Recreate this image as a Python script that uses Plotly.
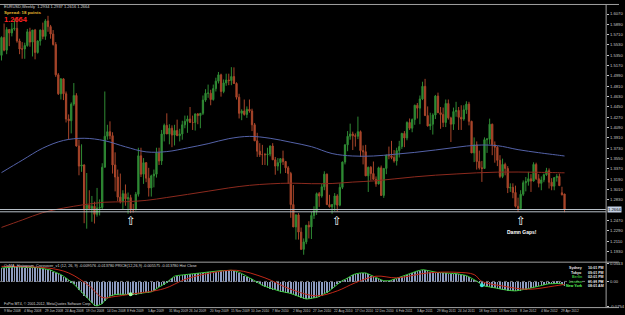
import plotly.graph_objects as go

# ---------------- data ----------------
week_labels = ["9 Mar 2008", "4 May 2008", "29 Jun 2008", "24 Aug 2008", "19 Oct 2008",
               "14 Dec 2008", "8 Feb 2009", "5 Apr 2009", "31 May 2009", "26 Jul 2009",
               "20 Sep 2009", "15 Nov 2009", "10 Jan 2010", "7 Mar 2010", "2 May 2010",
               "27 Jun 2010", "22 Aug 2010", "17 Oct 2010", "12 Dec 2010", "6 Feb 2011",
               "3 Apr 2011", "29 May 2011", "24 Jul 2011", "18 Sep 2011", "13 Nov 2011",
               "8 Jan 2012", "4 Mar 2012", "29 Apr 2012"]
label_step = 8

closes = [1.5660, 1.5440, 1.5800, 1.5740, 1.5810, 1.5820, 1.5600, 1.5460, 1.5460, 1.5520,
          1.5760, 1.5580, 1.5790, 1.5400, 1.5600, 1.5790, 1.5680, 1.5950, 1.5850, 1.5720,
          1.5540, 1.5010, 1.4680, 1.4940, 1.4680, 1.4240, 1.4210, 1.4500, 1.4650, 1.3770,
          1.3420, 1.3440, 1.2660, 1.2740, 1.2680, 1.2720, 1.2580, 1.2690, 1.2700, 1.3400,
          1.3940, 1.4020, 1.3950, 1.3440, 1.3230, 1.2880, 1.2800, 1.2940, 1.2850, 1.2870,
          1.2660, 1.2660, 1.2930, 1.3600, 1.3280, 1.3480, 1.3210, 1.3040, 1.3250, 1.3280,
          1.3650, 1.3510, 1.3980, 1.4130, 1.3980, 1.4080, 1.3960, 1.4040, 1.3950, 1.3980,
          1.4140, 1.4200, 1.4240, 1.4180, 1.4180, 1.4330, 1.4300, 1.4340, 1.4570, 1.4690,
          1.4690, 1.4580, 1.4770, 1.4900, 1.5010, 1.4720, 1.4870, 1.4920, 1.4910, 1.4980,
          1.4860, 1.4620, 1.4340, 1.4380, 1.4320, 1.4410, 1.4380, 1.4140, 1.3860, 1.3680,
          1.3620, 1.3620, 1.3620, 1.3630, 1.3770, 1.3530, 1.3420, 1.3480, 1.3550, 1.3500,
          1.3390, 1.3290, 1.2750, 1.2360, 1.2570, 1.2270, 1.1970, 1.2100, 1.2390, 1.2360,
          1.2560, 1.2640, 1.2940, 1.2900, 1.3060, 1.3280, 1.2750, 1.2710, 1.2750, 1.2900,
          1.2740, 1.3050, 1.3490, 1.3790, 1.3940, 1.3980, 1.3950, 1.3940, 1.4020, 1.3690,
          1.3670, 1.3250, 1.3400, 1.3290, 1.3190, 1.3110, 1.3390, 1.2910, 1.3380, 1.3610,
          1.3600, 1.3570, 1.3510, 1.3690, 1.3760, 1.3990, 1.3910, 1.4180, 1.4080, 1.4230,
          1.4480, 1.4430, 1.4590, 1.4810, 1.4300, 1.4120, 1.4150, 1.4310, 1.4640, 1.4350,
          1.4320, 1.4180, 1.4510, 1.4260, 1.4150, 1.4370, 1.4390, 1.4270, 1.4240, 1.4400,
          1.4500, 1.4200, 1.3650, 1.3790, 1.3500, 1.3390, 1.3380, 1.3880, 1.3890, 1.4150,
          1.3790, 1.3750, 1.3520, 1.3240, 1.3450, 1.3380, 1.3040, 1.3050, 1.2960, 1.2720,
          1.2680, 1.2930, 1.3130, 1.3150, 1.3200, 1.3160, 1.3450, 1.3200, 1.3120, 1.3180,
          1.3270, 1.3340, 1.3140, 1.3070, 1.3220, 1.3240, 1.3080, 1.2920, 1.2664]

highs = [1.5680, 1.5905, 1.5840, 1.5810, 1.5915, 1.5980, 1.6018, 1.5640, 1.5580, 1.5570,
         1.5810, 1.5830, 1.5790, 1.5810, 1.5610, 1.5800, 1.5920, 1.5980, 1.6038, 1.5880,
         1.5790, 1.5580, 1.5040, 1.4950, 1.4950, 1.4720, 1.4320, 1.4530, 1.4867, 1.4690,
         1.3880, 1.3800, 1.3450, 1.3300, 1.3000, 1.2900, 1.2800, 1.3040, 1.2840, 1.3470,
         1.4720, 1.4140, 1.4200, 1.4010, 1.3660, 1.3360, 1.3290, 1.3000, 1.3100, 1.2960,
         1.2920, 1.2760, 1.2970, 1.3740, 1.3740, 1.3560, 1.3490, 1.3390, 1.3270, 1.3360,
         1.3740, 1.3740, 1.4050, 1.4160, 1.4340, 1.4150, 1.4130, 1.4140, 1.4230, 1.4070,
         1.4210, 1.4300, 1.4300, 1.4450, 1.4300, 1.4330, 1.4340, 1.4340, 1.4650, 1.4760,
         1.4840, 1.4750, 1.4840, 1.4960, 1.5060, 1.5030, 1.4930, 1.5030, 1.5030, 1.5144,
         1.5140, 1.4880, 1.4680, 1.4410, 1.4580, 1.4460, 1.4580, 1.4420, 1.4170, 1.4000,
         1.3820, 1.3790, 1.3650, 1.3740, 1.3780, 1.3820, 1.3580, 1.3560, 1.3550, 1.3690,
         1.3510, 1.3420, 1.3320, 1.3090, 1.2580, 1.2600, 1.2350, 1.2160, 1.2390, 1.2460,
         1.2620, 1.2720, 1.2960, 1.2970, 1.3110, 1.3330, 1.3290, 1.2920, 1.2760, 1.2950,
         1.2930, 1.3120, 1.3500, 1.3800, 1.4030, 1.4160, 1.4020, 1.3990, 1.4282, 1.4040,
         1.3780, 1.3790, 1.3410, 1.3420, 1.3500, 1.3240, 1.3410, 1.3430, 1.3380, 1.3620,
         1.3760, 1.3860, 1.3700, 1.3740, 1.3860, 1.4000, 1.4030, 1.4200, 1.4250, 1.4250,
         1.4490, 1.4520, 1.4650, 1.4890, 1.4940, 1.4460, 1.4350, 1.4340, 1.4660, 1.4700,
         1.4450, 1.4440, 1.4580, 1.4580, 1.4280, 1.4440, 1.4540, 1.4450, 1.4480, 1.4480,
         1.4550, 1.4540, 1.4210, 1.3920, 1.3850, 1.3690, 1.3510, 1.3920, 1.3910, 1.4247,
         1.4160, 1.3850, 1.3770, 1.3610, 1.3550, 1.3480, 1.3420, 1.3120, 1.3120, 1.3080,
         1.2870, 1.3000, 1.3170, 1.3230, 1.3320, 1.3280, 1.3486, 1.3480, 1.3280, 1.3240,
         1.3290, 1.3390, 1.3380, 1.3210, 1.3220, 1.3280, 1.3290, 1.3060, 1.2937]

lows = [1.5260, 1.5420, 1.5370, 1.5510, 1.5680, 1.5780, 1.5570, 1.5370, 1.5290, 1.5290,
        1.5500, 1.5500, 1.5330, 1.5280, 1.5380, 1.5520, 1.5630, 1.5620, 1.5760, 1.5640,
        1.5520, 1.4975, 1.4660, 1.4580, 1.4570, 1.4180, 1.3880, 1.3990, 1.4470, 1.3760,
        1.3260, 1.3320, 1.2425, 1.2330, 1.2650, 1.2450, 1.2420, 1.2540, 1.2560, 1.2660,
        1.3400, 1.3880, 1.3890, 1.3290, 1.2980, 1.2810, 1.2770, 1.2660, 1.2730, 1.2590,
        1.2600, 1.2610, 1.2650, 1.2890, 1.3230, 1.3110, 1.3140, 1.2890, 1.2890, 1.3050,
        1.3220, 1.3440, 1.3440, 1.3850, 1.3980, 1.3800, 1.3750, 1.3780, 1.3950, 1.3850,
        1.3880, 1.4080, 1.4000, 1.4180, 1.4050, 1.4040, 1.4150, 1.4080, 1.4310, 1.4540,
        1.4610, 1.4480, 1.4560, 1.4720, 1.4860, 1.4630, 1.4690, 1.4820, 1.4830, 1.4830,
        1.4850, 1.4580, 1.4250, 1.4220, 1.4300, 1.4260, 1.4350, 1.4030, 1.3860, 1.3580,
        1.3580, 1.3440, 1.3440, 1.3430, 1.3590, 1.3530, 1.3270, 1.3340, 1.3290, 1.3440,
        1.3300, 1.3110, 1.2520, 1.2360, 1.2140, 1.2140, 1.1960, 1.1876, 1.2060, 1.2160,
        1.2150, 1.2500, 1.2570, 1.2710, 1.2870, 1.3000, 1.2740, 1.2700, 1.2590, 1.2640,
        1.2630, 1.2720, 1.3020, 1.3450, 1.3680, 1.3880, 1.3700, 1.3760, 1.3890, 1.3580,
        1.3450, 1.3250, 1.2970, 1.3170, 1.3180, 1.3060, 1.3100, 1.2900, 1.2867, 1.3280,
        1.3540, 1.3540, 1.3480, 1.3430, 1.3570, 1.3720, 1.3750, 1.3870, 1.4050, 1.4010,
        1.4140, 1.4250, 1.4150, 1.4570, 1.4300, 1.4110, 1.4050, 1.3970, 1.4240, 1.4350,
        1.4070, 1.4100, 1.4100, 1.4230, 1.3840, 1.4050, 1.4280, 1.4050, 1.4050, 1.4210,
        1.4330, 1.4130, 1.3650, 1.3490, 1.3360, 1.3360, 1.3145, 1.3380, 1.3650, 1.3800,
        1.3610, 1.3480, 1.3420, 1.3210, 1.3210, 1.3260, 1.2950, 1.2970, 1.2860, 1.2700,
        1.2624, 1.2670, 1.2900, 1.2980, 1.3080, 1.2970, 1.3150, 1.3180, 1.3050, 1.3000,
        1.3140, 1.3250, 1.3030, 1.3000, 1.3000, 1.3150, 1.3080, 1.2910, 1.2616]

first_open = 1.5350
gap_opens = {217: 1.2955, 218: 1.2934}

# moving averages read at every 8th bar
ma_idx = [0, 8, 16, 24, 32, 40, 48, 56, 64, 72, 80, 88, 96, 104, 112, 120, 128, 136,
          144, 152, 160, 168, 176, 184, 192, 200, 208, 216, 218]
ma_blue = [1.3307, 1.3522, 1.3733, 1.3867, 1.3905, 1.3862, 1.3756, 1.3668, 1.3673, 1.3737,
           1.3811, 1.3898, 1.3938, 1.3905, 1.3836, 1.3759, 1.3639, 1.3596, 1.3596, 1.3625,
           1.3659, 1.3701, 1.3747, 1.3785, 1.3776, 1.3707, 1.3654, 1.3608, 1.3596]
ma_red = [1.2352, 1.2481, 1.2610, 1.2689, 1.2748, 1.2791, 1.2799, 1.2823, 1.2873, 1.2927,
          1.2983, 1.3040, 1.3085, 1.3111, 1.3123, 1.3114, 1.3117, 1.3142, 1.3162, 1.3197,
          1.3233, 1.3262, 1.3283, 1.3303, 1.3315, 1.3317, 1.3312, 1.3305, 1.3303]

# oscillator (MACD main / histogram)
macd_main = [0.041, 0.042, 0.043, 0.044, 0.044, 0.045, 0.045, 0.044, 0.044, 0.043,
             0.043, 0.043, 0.042, 0.042, 0.042, 0.041, 0.040, 0.039, 0.037, 0.035,
             0.031, 0.028, 0.025, 0.021, 0.016, 0.011, 0.006, -0.001, -0.008, -0.016,
             -0.024, -0.033, -0.042, -0.051, -0.059, -0.066, -0.073, -0.075, -0.072, -0.068,
             -0.058, -0.050, -0.045, -0.042, -0.040, -0.039, -0.039, -0.040, -0.041, -0.040,
             -0.039, -0.039, -0.040, -0.038, -0.036, -0.035, -0.035, -0.034, -0.032, -0.028,
             -0.022, -0.017, -0.013, -0.009, -0.003, 0.004, 0.011, 0.016, 0.018, 0.019,
             0.020, 0.021, 0.022, 0.023, 0.024, 0.025, 0.026, 0.027, 0.028, 0.028,
             0.029, 0.030, 0.030, 0.031, 0.032, 0.033, 0.033, 0.034, 0.034, 0.034,
             0.033, 0.031, 0.028, 0.024, 0.019, 0.015, 0.011, 0.007, 0.002, -0.003,
             -0.008, -0.012, -0.015, -0.018, -0.021, -0.024, -0.026, -0.028, -0.030, -0.031,
             -0.033, -0.035, -0.037, -0.040, -0.044, -0.047, -0.050, -0.053, -0.054, -0.053,
             -0.052, -0.050, -0.049, -0.046, -0.042, -0.038, -0.033, -0.029, -0.022, -0.015,
             -0.008, -0.002, 0.003, 0.006, 0.011, 0.016, 0.020, 0.023, 0.025, 0.026,
             0.026, 0.026, 0.023, 0.019, 0.015, 0.011, 0.008, 0.005, 0.002, 0.001,
             0.002, 0.004, 0.007, 0.010, 0.013, 0.016, 0.019, 0.021, 0.024, 0.026,
             0.029, 0.032, 0.034, 0.036, 0.035, 0.033, 0.031, 0.029, 0.028, 0.027,
             0.027, 0.026, 0.026, 0.025, 0.025, 0.024, 0.024, 0.023, 0.022, 0.021,
             0.018, 0.014, 0.010, 0.006, 0.001, -0.005, -0.012, -0.014, -0.015, -0.017,
             -0.018, -0.019, -0.021, -0.023, -0.025, -0.026, -0.027, -0.028, -0.029, -0.029,
             -0.028, -0.027, -0.026, -0.024, -0.022, -0.020, -0.018, -0.016, -0.013, -0.011,
             -0.009, -0.008, -0.007, -0.007, -0.006, -0.006, -0.006, -0.008, -0.012]

sig_idx = [0, 18, 26, 34, 39, 44, 50, 63, 71, 81, 91, 102, 112, 122, 130, 137, 145,
           153, 165, 176, 183, 186, 194, 204, 214, 218]
sig_val = [0.046, 0.041, 0.026, -0.014, -0.049, -0.046, -0.039, -0.022, 0.006, 0.026,
           0.034, 0.011, -0.024, -0.044, -0.029, -0.004, 0.016, 0.011, 0.026, 0.028,
           0.021, 0.000, -0.014, -0.024, -0.014, -0.009]

cross_idx = [50, 186]
cross_val = [-0.039, -0.012]

level_prices = [1.2664, 1.2624]
arrow_idx = [50, 130, 201]
arrow_price = [1.2600, 1.2600, 1.2600]
note_text = "Damn Gaps!"
note_idx = 201.5
note_price = 1.2279

price_tick_labels = ["1.6070", "1.5890", "1.5710", "1.5530", "1.5350", "1.5170", "1.4990",
                     "1.4810", "1.4630", "1.4450", "1.4270", "1.4090", "1.3910", "1.3730",
                     "1.3550", "1.3370", "1.3190", "1.3010", "1.2830", "1.2470",
                     "1.2290", "1.2110", "1.1930"]
osc_tick_labels = ["0.0543", "0.00", "-0.0754"]

header_text = "EURUSD,Weekly  1.2934 1.2937 1.2616 1.2664"
spread_text = "Spread: 18 points"
bid_text = "1.2664"
osc_title = ("OsMA_Histogram_Crossover_v1 (12, 26, 9) -0.009576 -0.013780 PRICE(12,26,9) "
             "-0.005575 -0.013780 Hist Close")
footer_text = "FxPro MT4, \u00a9 2001-2012, MetaQuotes Software Corp."
sessions = ["Sydney", "Tokyo", "Berlin", "London", "New York"]
session_times = ["10:01 PM", "09:01 PM", "02:01 PM", "01:01 PM", "08:01 AM"]
session_colors = ["#e8e8e8", "#e8e8e8", "#38b838", "#38b838", "#5cff5c"]

# ---------------- build ----------------
n = len(closes)
idx = list(range(n))
opens = [first_open] + closes[:-1]
for k, v in gap_opens.items():
    opens[k] = v

W, H = 625, 315
def px(x):
    return x / W
def py(y):
    return 1 - y / H

PLOT_R = 612
XR = [-0.58, 234.1]
GREEN = "#2f8a34"
RED = "#a8452a"
AX = "#c8c8c8"
FONT = "Liberation Sans"

fig = go.Figure()
fig.add_trace(go.Candlestick(
    x=idx, open=opens, high=highs, low=lows, close=closes,
    increasing=dict(line=dict(color=GREEN, width=1), fillcolor=GREEN),
    decreasing=dict(line=dict(color=RED, width=1), fillcolor=RED),
    whiskerwidth=0, showlegend=False, hoverinfo="skip", xaxis="x", yaxis="y"))
fig.add_trace(go.Scatter(x=ma_idx, y=ma_blue, mode="lines", showlegend=False,
                         line=dict(color="#5462a8", width=1, shape="spline"),
                         hoverinfo="skip", xaxis="x", yaxis="y"))
fig.add_trace(go.Scatter(x=ma_idx, y=ma_red, mode="lines", showlegend=False,
                         line=dict(color="#8c2a1e", width=1, shape="spline"),
                         hoverinfo="skip", xaxis="x", yaxis="y"))

# oscillator
fig.add_trace(go.Bar(x=idx, y=macd_main, width=0.22,
                     marker=dict(color="#8e9cc0", line=dict(width=0)),
                     showlegend=False, hoverinfo="skip", xaxis="x2", yaxis="y2"))
fig.add_trace(go.Scatter(x=idx, y=macd_main, mode="lines", showlegend=False,
                         line=dict(color="#3cc83c", width=1), hoverinfo="skip",
                         xaxis="x2", yaxis="y2"))
fig.add_trace(go.Scatter(x=sig_idx, y=sig_val, mode="lines", showlegend=False,
                         line=dict(color="#c02818", width=1, shape="spline"), hoverinfo="skip",
                         xaxis="x2", yaxis="y2"))
fig.add_trace(go.Scatter(x=cross_idx, y=cross_val, mode="markers", showlegend=False,
                         marker=dict(color=["#a0ffa0", "#40e8d8"], size=4), hoverinfo="skip",
                         xaxis="x2", yaxis="y2"))

shapes = []
for lv in level_prices:
    shapes.append(dict(type="line", xref="paper", yref="y", x0=0, x1=px(PLOT_R), y0=lv, y1=lv,
                       line=dict(color="#b8c0c8", width=1)))
shapes.append(dict(type="line", xref="paper", yref="y2", x0=0, x1=px(PLOT_R), y0=0, y1=0,
                   line=dict(color="#707070", width=1, dash="dot")))
for yy in (1.5, 262.5, 308.5):
    shapes.append(dict(type="line", xref="paper", yref="paper", x0=0, x1=1, y0=py(yy), y1=py(yy),
                       line=dict(color="#a0a0a0", width=1)))
shapes.append(dict(type="line", xref="paper", yref="paper", x0=px(PLOT_R), x1=px(PLOT_R),
                   y0=py(309), y1=py(1.5), line=dict(color="#a0a0a0", width=1)))

ann = []
for k, lab in enumerate(week_labels):
    ann.append(dict(x=k * label_step, y=py(312), xref="x2", yref="paper", text=lab,
                    showarrow=False, xanchor="left", yanchor="middle",
                    font=dict(family=FONT, size=3.3, color=AX)))
for ai, ap in zip(arrow_idx, arrow_price):
    ann.append(dict(x=ai, y=ap, xref="x", yref="y", text="\u21e7", showarrow=False,
                    xanchor="center", yanchor="top", borderpad=0,
                    font=dict(family="DejaVu Sans", size=12, color="#ffffff")))
ann.append(dict(x=note_idx, y=note_price, xref="x", yref="y", text="<b>" + note_text + "</b>",
                showarrow=False, xanchor="center", yanchor="middle", borderpad=0,
                font=dict(family=FONT, size=5, color="#ffffff")))
ann.append(dict(x=px(2), y=py(4), xref="paper", yref="paper", text=header_text, showarrow=False,
                xanchor="left", yanchor="middle", font=dict(family=FONT, size=4, color="#d8d8d8")))
ann.append(dict(x=px(2), y=py(9.5), xref="paper", yref="paper", text="<b>" + spread_text + "</b>",
                showarrow=False, xanchor="left", yanchor="middle",
                font=dict(family=FONT, size=4.4, color="#e8b830")))
ann.append(dict(x=px(2.5), y=py(16.5), xref="paper", yref="paper", text="<b>" + bid_text + "</b>",
                showarrow=False, xanchor="left", yanchor="middle",
                font=dict(family=FONT, size=7.5, color="#ff2020")))
ann.append(dict(x=px(2), y=py(266.5), xref="paper", yref="paper", text=osc_title, showarrow=False,
                xanchor="left", yanchor="middle", font=dict(family=FONT, size=3.8, color="#d8d8d8")))
ann.append(dict(x=px(2), y=py(304.5), xref="paper", yref="paper", text=footer_text, showarrow=False,
                xanchor="left", yanchor="middle", font=dict(family=FONT, size=3.6, color="#d8d8d8")))
for r, (nm, tm, col) in enumerate(zip(sessions, session_times, session_colors)):
    yy = 268.5 + r * 4.6
    ann.append(dict(x=px(589), y=py(yy), xref="paper", yref="paper", text="<b>" + nm + "</b>",
                    showarrow=False, xanchor="right", yanchor="middle", borderpad=0,
                    font=dict(family=FONT, size=3.6, color=col)))
    ann.append(dict(x=px(593), y=py(yy), xref="paper", yref="paper", text="<b>" + tm + "</b>",
                    showarrow=False, xanchor="left", yanchor="middle", borderpad=0,
                    font=dict(family=FONT, size=3.6, color="#e8e8e8")))
ann.append(dict(x=px(613), y=closes[-1], xref="paper", yref="y", text=bid_text, showarrow=False,
                xanchor="left", yanchor="middle", bgcolor="#c4d0e4", borderpad=0,
                font=dict(family=FONT, size=4.2, color="#000000")))

fig.update_layout(
    width=W, height=H, margin=dict(l=0, r=0, t=0, b=0),
    paper_bgcolor="#000000", plot_bgcolor="#000000",
    showlegend=False, bargap=0, shapes=shapes, annotations=ann,
    xaxis=dict(domain=[0, px(PLOT_R)], range=XR, showgrid=False, zeroline=False,
               showticklabels=False, showline=False, rangeslider=dict(visible=False),
               anchor="y", fixedrange=True),
    xaxis2=dict(domain=[0, px(PLOT_R)], range=XR, showgrid=False, zeroline=False,
                showticklabels=False, showline=False, anchor="y2", matches="x"),
    yaxis=dict(domain=[py(262), py(3)], range=[1.17552, 1.6210], side="right", anchor="x",
               tickvals=[float(t) for t in price_tick_labels], ticktext=price_tick_labels,
               tickfont=dict(family=FONT, size=4.2, color=AX), ticks="outside", ticklen=2,
               tickcolor=AX, showgrid=False, zeroline=False, showline=False),
    yaxis2=dict(domain=[py(308), py(264)], range=[-0.0785, 0.0544], side="right", anchor="x2",
                tickvals=[float(t) for t in osc_tick_labels], ticktext=osc_tick_labels,
                tickfont=dict(family=FONT, size=4.2, color=AX), ticks="outside", ticklen=2,
                tickcolor=AX, showgrid=False, zeroline=False, showline=False),
)

fig.write_html("out.html")
